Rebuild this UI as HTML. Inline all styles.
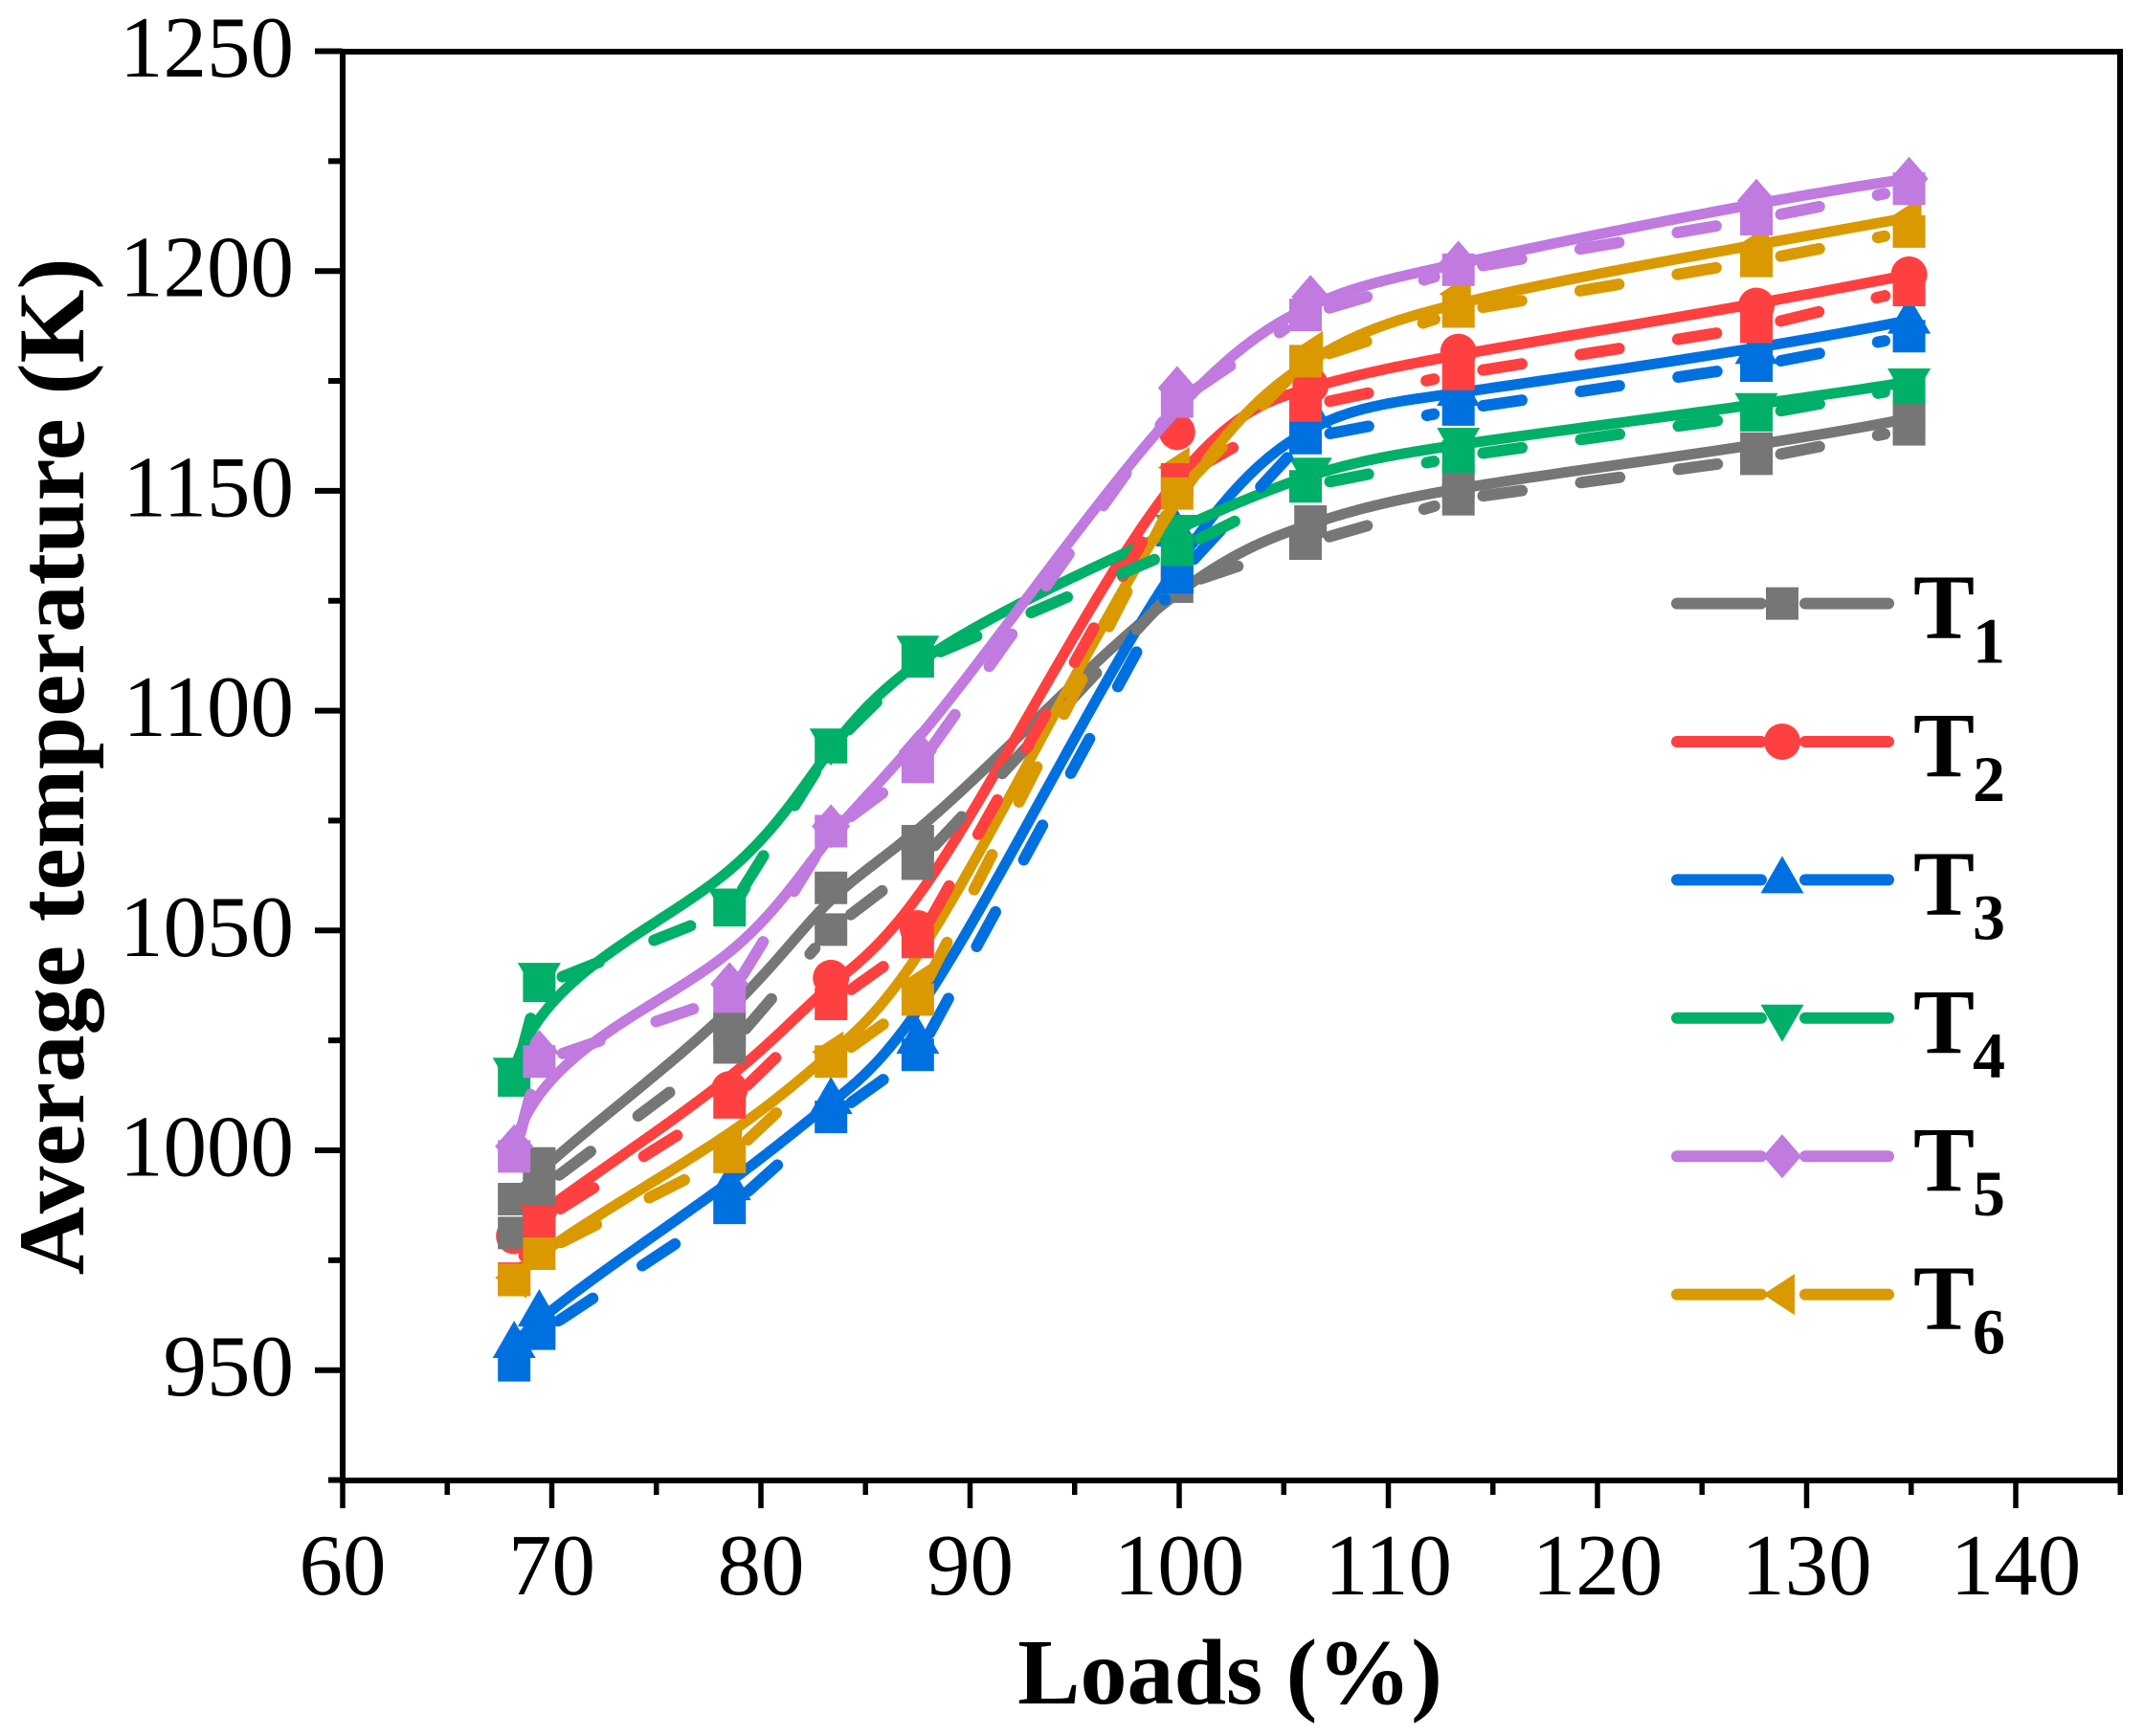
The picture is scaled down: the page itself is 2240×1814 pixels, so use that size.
<!DOCTYPE html>
<html lang="en">
<head>
<meta charset="utf-8">
<title>Average temperature vs loads</title>
<style>
html,body{margin:0;padding:0;background:#fff;}
svg{display:block;font-family:"Liberation Serif",serif;}
</style>
</head>
<body>
<svg id="chart" xmlns="http://www.w3.org/2000/svg" width="2240" height="1814" viewBox="0 0 2240 1814">
  <rect x="0" y="0" width="2240" height="1814" fill="#ffffff"/>
  <g id="solid-layer"></g>
  <g id="dashed-layer"></g>
  <g id="axes"></g>
  <text x="1285" y="1780" font-size="98" font-weight="bold" text-anchor="middle">Loads (%)</text>
  <text transform="translate(87,801) rotate(-90)" font-size="99" font-weight="bold" text-anchor="middle">Average temperature (K)</text>
  <g id="legend"></g>
</svg>
<script>
const xTickLabels = [60, 70, 80, 90, 100, 110, 120, 130, 140];
const xMinorTicks = [65, 75, 85, 95, 105, 115, 125, 135, 145];
const yTickLabels = [950, 1000, 1050, 1100, 1150, 1200, 1250];
const yMinorTicks = [925, 975, 1025, 1075, 1125, 1175, 1225];

const loadsSolid = [68.2, 69.4, 78.5, 83.35, 87.5, 99.9, 106.28, 113.35, 127.6, 134.9];
const loadsDashed = [68.2, 69.4, 78.5, 83.35, 87.5, 99.9, 106.04, 113.35, 127.6, 134.9];

const t1Solid = [988.9, 997, 1028, 1059.7, 1070.3, 1131, 1143, 1152, 1159.6, 1166.5];
const t1Dashed = [981.2, 991, 1023.4, 1050.2, 1065.2, 1128.2, 1138, 1148.1, 1157.3, 1164];
const t2Solid = [980.5, 986.6, 1013.9, 1039.2, 1050.5, 1163.4, 1174, 1181.6, 1192.1, 1199.2];
const t2Dashed = [970.8, 983.7, 1010.9, 1033.3, 1047.4, 1152.6, 1169.2, 1176.6, 1187.3, 1195.7];
const t3Solid = [955.8, 963, 991.7, 1011.3, 1025, 1140.4, 1167.4, 1172.4, 1181.9, 1188.8];
const t3Dashed = [951.1, 958.3, 986.9, 1007.6, 1021.7, 1130.3, 1162, 1168.5, 1178.5, 1185.2];
const t4Solid = [1018, 1039.6, 1056.5, 1092.9, 1114, 1141.5, 1154.5, 1161.3, 1169.2, 1174.8];
const t4Dashed = [1015.9, 1037.4, 1054.6, 1091.7, 1111.2, 1136.6, 1151, 1157.8, 1167.2, 1173.5];
const t5Solid = [1000.9, 1022.4, 1037.8, 1073.7, 1090.7, 1173.4, 1194.1, 1201.9, 1216, 1221];
const t5Dashed = [998.6, 1020.2, 1035, 1072.6, 1087.2, 1170.3, 1190, 1200.3, 1211.8, 1218.7];
const t6Solid = [971, 978, 1001.9, 1022.4, 1037.8, 1155.3, 1181.7, 1194.8, 1205.8, 1212.2];
const t6Dashed = [970.5, 976.5, 998.5, 1020.2, 1034.3, 1149.4, 1179.5, 1190.8, 1202.3, 1209];

const seriesNames = ["t1", "t2", "t3", "t4", "t5", "t6"];
const seriesSubscripts = ["1", "2", "3", "4", "5", "6"];
const seriesColors = ["#767676", "#ff4040", "#0070e0", "#00af68", "#c07ae0", "#da9900"];
const seriesShapes = ["square", "circle", "triangle-up", "triangle-down", "diamond", "triangle-left"];
const solidValues = [t1Solid, t2Solid, t3Solid, t4Solid, t5Solid, t6Solid];
const dashedValues = [t1Dashed, t2Dashed, t3Dashed, t4Dashed, t5Dashed, t6Dashed];

const NS = "http://www.w3.org/2000/svg";
const PLOT = {left: 358, right: 2215, top: 54, bottom: 1547};
function sx(x) { return PLOT.left + (x - 60) * 21.85; }
function sy(v) { return 1431.7 - (v - 950) * 4.594; }

function make(tag, parent, attrs) {
  const el = document.createElementNS(NS, tag);
  for (const k in attrs) el.setAttribute(k, attrs[k]);
  parent.appendChild(el);
  return el;
}

/* clamped cubic B-spline with knots averaged from the x positions, sampled via de Boor */
function bspline(points) {
  const n = points.length, p = 3, knots = [];
  for (let i = 0; i <= p; i++) knots.push(points[0][0]);
  for (let j = 1; j <= n - p - 1; j++) {
    knots.push((points[j][0] + points[j + 1][0] + points[j + 2][0]) / 3);
  }
  for (let i = 0; i <= p; i++) knots.push(points[n - 1][0]);
  const out = [];
  for (let span = p; span < n; span++) {
    for (let s = 0; s < 40; s++) {
      const t = knots[span] + (knots[span + 1] - knots[span]) * s / 40;
      const d = [];
      for (let j = 0; j <= p; j++) d.push(points[span - p + j].slice());
      for (let r = 1; r <= p; r++) {
        for (let j = p; j >= r; j--) {
          const a = (t - knots[span - p + j]) / (knots[span + 1 + j - r] - knots[span - p + j]);
          d[j][0] = (1 - a) * d[j - 1][0] + a * d[j][0];
          d[j][1] = (1 - a) * d[j - 1][1] + a * d[j][1];
        }
      }
      out.push(d[p]);
    }
  }
  out.push(points[n - 1].slice());
  return out;
}

function toPath(pts) {
  return "M" + pts.map(function (q) { return q[0].toFixed(2) + " " + q[1].toFixed(2); }).join("L");
}

function markerD(shape, cx, cy) {
  if (shape === "square") return "M" + (cx - 17) + " " + (cy - 17) + "h34v34h-34z";
  if (shape === "circle") return "M" + (cx - 19) + " " + cy + "a19 19 0 1 0 38 0a19 19 0 1 0 -38 0z";
  if (shape === "triangle-up") return "M" + cx + " " + (cy - 25) + "L" + (cx + 22.5) + " " + (cy + 14) + "L" + (cx - 22.5) + " " + (cy + 14) + "z";
  if (shape === "triangle-down") return "M" + cx + " " + (cy + 25) + "L" + (cx + 22.5) + " " + (cy - 14) + "L" + (cx - 22.5) + " " + (cy - 14) + "z";
  if (shape === "diamond") return "M" + cx + " " + (cy - 23) + "L" + (cx + 20) + " " + cy + "L" + cx + " " + (cy + 23) + "L" + (cx - 20) + " " + cy + "z";
  return "M" + (cx - 20) + " " + cy + "L" + (cx + 13) + " " + (cy - 21.5) + "V" + (cy + 21.5) + "z";
}

/* axes */
const axes = document.getElementById("axes");
const frame = make("path", axes, {d: "M" + PLOT.left + " " + PLOT.bottom + "V" + PLOT.top + "H" + PLOT.right + "V" + PLOT.bottom + "Z", fill: "none", stroke: "#000", "stroke-width": 6});



xTickLabels.forEach(function (v) {
  const tick = make("line", axes, {x1: sx(v), x2: sx(v), y1: PLOT.bottom, y2: PLOT.bottom + 29, stroke: "#000", "stroke-width": 5.5});
  
  
  const label = make("text", axes, {x: sx(v), y: 1666, "font-size": 91, "text-anchor": "middle"});
  label.textContent = v;
  
  
});
xMinorTicks.forEach(function (v) {
  const tick = make("line", axes, {x1: sx(v), x2: sx(v), y1: PLOT.bottom, y2: PLOT.bottom + 15, stroke: "#000", "stroke-width": 5.5});
  
  
});
yTickLabels.forEach(function (v) {
  const tick = make("line", axes, {x1: PLOT.left - 29, x2: PLOT.left, y1: sy(v), y2: sy(v), stroke: "#000", "stroke-width": 6});
  
  
  const label = make("text", axes, {x: 307, y: sy(v) + 26.5, "font-size": 91, "text-anchor": "end"});
  label.textContent = v;
  
  
});
yMinorTicks.forEach(function (v) {
  const tick = make("line", axes, {x1: PLOT.left - 15, x2: PLOT.left, y1: sy(v), y2: sy(v), stroke: "#000", "stroke-width": 6});
  
  
});

/* solid series: smooth spline with its own symbols */
const solidLayer = document.getElementById("solid-layer");
solidValues.forEach(function (vals, i) {
  const pts = vals.map(function (v, k) { return [sx(loadsSolid[k]), sy(v)]; });
  const line = make("path", solidLayer, {d: toPath(bspline(pts)), fill: "none", stroke: seriesColors[i], "stroke-width": 11, "stroke-linecap": "round", "stroke-linejoin": "round"});
  
  
  pts.forEach(function (q) {
    const m = make("path", solidLayer, {d: markerD(seriesShapes[i], q[0], q[1]), fill: seriesColors[i]});
    
    
  });
});

/* dashed series: straight segments, the dash pattern restarts after each symbol and leaves a gap */
const dashedLayer = document.getElementById("dashed-layer");
const TRIM = 26;
dashedValues.forEach(function (vals, i) {
  const pts = vals.map(function (v, k) { return [sx(loadsDashed[k]), sy(v)]; });
  for (let k = 0; k < pts.length - 1; k++) {
    const a = pts[k], b = pts[k + 1];
    const len = Math.hypot(b[0] - a[0], b[1] - a[1]);
    if (len <= 2 * TRIM) continue;
    const ux = (b[0] - a[0]) / len, uy = (b[1] - a[1]) / len;
    const dash = make("line", dashedLayer, {
      x1: a[0] + ux * TRIM, y1: a[1] + uy * TRIM,
      x2: b[0] - ux * TRIM, y2: b[1] - uy * TRIM,
      stroke: seriesColors[i], "stroke-width": 12, "stroke-linecap": "round", "stroke-dasharray": "41 62"
    });
    
    
  }
  pts.forEach(function (q) {
    const m = make("path", dashedLayer, {d: markerD("square", q[0], q[1]), fill: seriesColors[i]});
    
    
  });
});

/* legend */
const legend = document.getElementById("legend");
seriesNames.forEach(function (name, i) {
  const y = 630.6 + 144.4 * i;
  const left = make("line", legend, {x1: 1752, x2: 1840, y1: y, y2: y, stroke: seriesColors[i], "stroke-width": 12, "stroke-linecap": "round"});
  
  
  const right = make("line", legend, {x1: 1886, x2: 1973, y1: y, y2: y, stroke: seriesColors[i], "stroke-width": 12, "stroke-linecap": "round"});
  
  
  const sym = make("path", legend, {d: markerD(seriesShapes[i], 1862, y), fill: seriesColors[i]});
  
  
  const label = make("text", legend, {x: 1999, y: y + 36, "font-size": 96, "font-weight": "bold"});
  
  
  label.appendChild(document.createTextNode("T"));
  const sub = make("tspan", label, {"font-size": 68, dy: 26, dx: -2});
  sub.textContent = seriesSubscripts[i];
  
  
});
</script>
</body>
</html>
